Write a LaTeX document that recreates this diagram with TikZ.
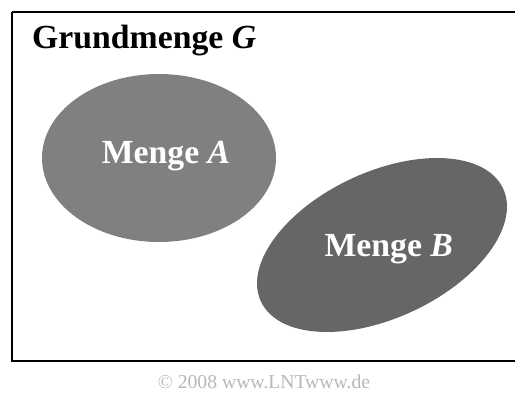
\documentclass[tikz,border=0pt]{standalone}
\usepackage{fontspec}
\setmainfont{Liberation Serif}
\usepackage{tikz}

\definecolor{setA}{gray}{0.50}
\definecolor{setB}{gray}{0.40}
\definecolor{copy}{gray}{0.72}

\begin{document}
\begin{tikzpicture}[every node/.style={font=\fontsize{24}{27}\selectfont\bfseries}]
      \useasboundingbox (0, 0) rectangle (12.875, 9.8);
      % universal set frame, right side runs off the page
      \draw[line width=2pt] (0.3, 9.5) -- (0.3, 0.775) -- (13.2, 0.775);
      \draw[line width=2pt] (0.3, 9.5) -- (13.2, 9.5);
      \node[anchor=base west] (G) at (0.68, 8.6) {Grundmenge \textit{G}};
      % the two sets
      \fill[setA] (3.975, 5.85) ellipse [x radius=2.925, y radius=2.1];
      \fill[setB, rotate around={25:(9.55, 3.675)}] (9.55, 3.675) ellipse [x radius=3.34, y radius=1.825];
      \node[text=white, anchor=base] (A) at (4.15, 5.72) {Menge \textit{A}};
      \node[text=white, anchor=base] (B) at (9.72, 3.4) {Menge \textit{B}};
      \node[font=\fontsize{14}{16}\selectfont, text=copy, anchor=base] (C) at (6.6, 0.08) {\textcopyright{} 2008 www.LNTwww.de};
    \end{tikzpicture}
\end{document}
